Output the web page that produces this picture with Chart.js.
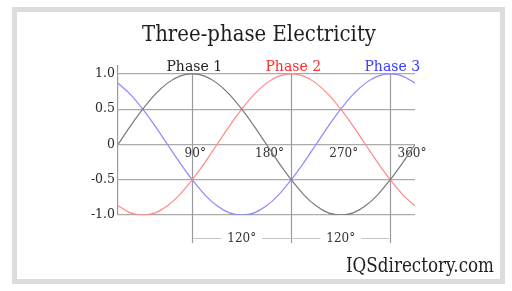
<!DOCTYPE html>
<html><head><meta charset="utf-8">
<script src="https://cdn.jsdelivr.net/npm/chart.js@4.4.1/dist/chart.umd.min.js"></script>
<style>
html,body{margin:0;padding:0;background:#fff;}
#wrap{position:relative;width:512px;height:291px;overflow:hidden;}
#frame{position:absolute;left:12px;top:7px;width:493px;height:277px;box-sizing:border-box;border:5px solid #dcdcdc;}
canvas{position:absolute;left:0;top:0;}
</style></head><body>
<div id="wrap"><div id="frame"></div><canvas id="c" width="512" height="291"></canvas></div>
<script>
// ---- data ----
const degrees = [0,15,30,45,60,75,90,105,120,135,150,165,180,195,210,225,240,255,270,285,300,315,330,345,360];
const phase1 = [0,0.26,0.5,0.71,0.87,0.97,1,0.97,0.87,0.71,0.5,0.26,0,-0.26,-0.5,-0.71,-0.87,-0.97,-1,-0.97,-0.87,-0.71,-0.5,-0.26,0];
const phase2 = [-0.87,-0.97,-1,-0.97,-0.87,-0.71,-0.5,-0.26,0,0.26,0.5,0.71,0.87,0.97,1,0.97,0.87,0.71,0.5,0.26,0,-0.26,-0.5,-0.71,-0.87];
const phase3 = [0.87,0.71,0.5,0.26,0,-0.26,-0.5,-0.71,-0.87,-0.97,-1,-0.97,-0.87,-0.71,-0.5,-0.26,0,0.26,0.5,0.71,0.87,0.97,1,0.97,0.87];
const seriesNames = ['Phase 1','Phase 2','Phase 3'];
const peakDegrees = [90,210,330];
const yTickValues = [-1,-0.5,0,0.5,1];
const yTickLabels = ['-1.0','-0.5','0','0.5','1.0'];
const xTickValues = [90,180,270,360];
const xTickLabels = ['90°','180°','270°','360°'];
const spanLabel = '120°';
const titleText = 'Three-phase Electricity';
const sourceText = 'IQSdirectory.com';

const lineColors = ['#7a7a7a','#ff8a8a','#8a8aff'];
const labelColors = ['#222222','#ff2a2a','#3a3aff'];
const FONT = "'DejaVu Serif', serif";

function toPts(arr){ return degrees.map((d,i)=>({x:d,y:arr[i]})); }

function fitText(ctx, text, x, y, targetW, align){
  const w = ctx.measureText(text).width;
  const s = Math.min(1, targetW / w);
  ctx.save(); ctx.translate(x, y); ctx.scale(s, 1);
  ctx.textAlign = align; ctx.fillText(text, 0, 0); ctx.restore();
}

const decor = {
  id:'decor',
  beforeDatasetsDraw(chart){
    const ctx = chart.ctx, xs = chart.scales.x, ys = chart.scales.y;
    const top = ys.getPixelForValue(1), bot = chart.chartArea.bottom + 28;
    ctx.save();
    ctx.strokeStyle = '#9a9a9a'; ctx.lineWidth = 1.2;
    peakDegrees.forEach(d=>{
      const px = Math.round(xs.getPixelForValue(d)) + 0.5;
      ctx.beginPath(); ctx.moveTo(px, top); ctx.lineTo(px, bot); ctx.stroke();
    });
    ctx.fillStyle = '#333'; ctx.font = '12px ' + FONT;
    ctx.textAlign = 'center'; ctx.textBaseline = 'middle';
    const y0 = ys.getPixelForValue(0);
    xTickValues.forEach((v,i)=>{
      const dx = v === 360 ? -3 : 3;
      ctx.fillText(xTickLabels[i], xs.getPixelForValue(v) + dx, y0 + 9);
    });
    const yd = chart.chartArea.bottom + 23.5;
    ctx.font = '12px ' + FONT;
    for (let k = 0; k < peakDegrees.length - 1; k++){
      const a = xs.getPixelForValue(peakDegrees[k]), b = xs.getPixelForValue(peakDegrees[k+1]);
      const mid = (a + b) / 2, tw = ctx.measureText(spanLabel).width / 2 + 6;
      ctx.strokeStyle = '#c4c4c4'; ctx.lineWidth = 1;
      ctx.beginPath(); ctx.moveTo(a + 1, yd); ctx.lineTo(mid - tw, yd);
      ctx.moveTo(mid + tw, yd); ctx.lineTo(b - 1, yd); ctx.stroke();
      ctx.fillText(spanLabel, mid, yd);
    }
    ctx.restore();
  },
  afterDraw(chart){
    const ctx = chart.ctx, xs = chart.scales.x;
    ctx.save();
    ctx.textBaseline = 'alphabetic';
    ctx.fillStyle = '#1e1e1e'; ctx.font = '22px ' + FONT;
    fitText(ctx, titleText, 259, 41, 234, 'center');
    ctx.font = '14px ' + FONT;
    seriesNames.forEach((n,i)=>{
      ctx.fillStyle = labelColors[i];
      ctx.textAlign = 'center';
      ctx.fillText(n, xs.getPixelForValue(peakDegrees[i]) + 2, 71);
    });
    ctx.fillStyle = '#1e1e1e'; ctx.font = '20px ' + FONT;
    fitText(ctx, sourceText, 494, 272, 148, 'right');
    ctx.restore();
  }
};

new Chart(document.getElementById('c'), {
  type:'line',
  data:{ datasets: seriesNames.map((n,i)=>({
    label:n, data:toPts([phase1,phase2,phase3][i]),
    borderColor:lineColors[i], borderWidth:1.2, pointRadius:0,
    cubicInterpolationMode:'monotone', fill:false
  }))},
  options:{
    responsive:false, animation:false, devicePixelRatio:1,
    layout:{ padding:{ left:0, right:97, top:66, bottom:76 } },
    plugins:{ legend:{display:false}, tooltip:{enabled:false}, title:{display:false} },
    scales:{
      x:{ type:'linear', min:0, max:360, display:false },
      y:{ type:'linear', min:-1, max:1.113,
        afterFit(s){ s.width = 118; },
        afterBuildTicks(s){ s.ticks = yTickValues.map(v=>({value:v})); },
        ticks:{ padding:3, color:'#2a2a2a', font:{ family:"'DejaVu Serif', serif", size:12.5 },
          callback:(v)=>{ const i = yTickValues.indexOf(v); return i >= 0 ? yTickLabels[i] : ''; } },
        grid:{ color:'#ababab', lineWidth:1.2, drawTicks:false },
        border:{ display:true, color:'#9a9a9a', width:1.2 }
      }
    }
  },
  plugins:[decor]
});
</script>
</body></html>
